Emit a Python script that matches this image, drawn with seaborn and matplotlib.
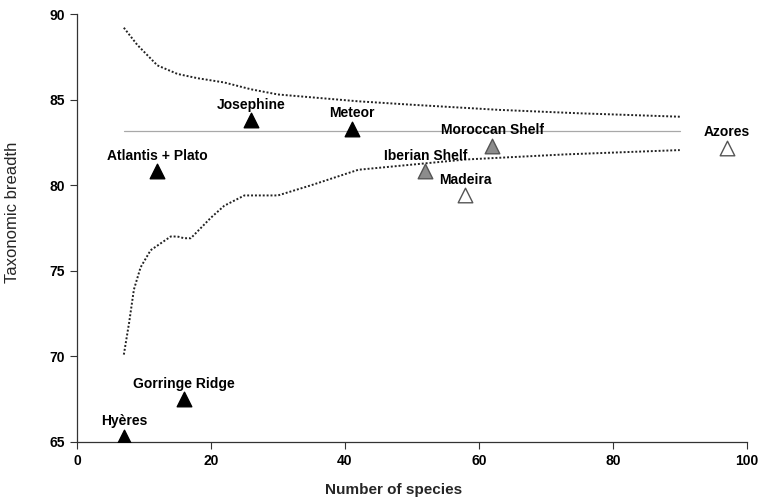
import matplotlib
matplotlib.use("Agg")
import matplotlib.pyplot as plt
import seaborn as sns
import pandas as pd

# Sites
sites = ["Hyères", "Gorringe Ridge", "Atlantis + Plato", "Josephine", "Meteor",
         "Iberian Shelf", "Moroccan Shelf", "Madeira", "Azores"]
n_species = [7, 16, 12, 26, 41, 52, 62, 58, 97]
tax_breadth = [65.3, 67.5, 80.8, 83.8, 83.3, 80.8, 82.3, 79.4, 82.2]
group = ["seamount", "seamount", "seamount", "seamount", "seamount",
         "shelf", "shelf", "island", "island"]

# Expected mean and 95% funnel
mean_x = [7, 90]
mean_y = [83.15, 83.15]
upper_x = [7, 9, 12, 15, 18, 22, 26, 30, 36, 42, 50, 63, 75, 90]
upper_y = [89.2, 88.2, 87.0, 86.5, 86.25, 86.0, 85.6, 85.3, 85.1, 84.9, 84.7, 84.4, 84.2, 84.0]
lower_x = [7, 7.8, 8.5, 9.5, 11, 12.5, 14, 15, 16, 17, 20, 22, 25, 30, 35, 42, 50, 58, 73, 90]
lower_y = [70.1, 72.0, 73.9, 75.2, 76.2, 76.6, 77.0, 77.0, 76.9, 76.9, 78.1, 78.8, 79.4, 79.4, 80.0, 80.9, 81.2, 81.5, 81.8, 82.05]

df = pd.DataFrame({"site": sites, "n": n_species, "tb": tax_breadth, "group": group})

sns.set_style("ticks")
plt.rcParams["font.family"] = ["Liberation Sans", "DejaVu Sans"]

fig = plt.figure(figsize=(7.62, 5.01), dpi=100)
ax = fig.add_axes([0.101, 0.118, 0.879, 0.854])

sns.lineplot(x=mean_x, y=mean_y, ax=ax, color="#a8a8a8", linewidth=0.9)
sns.lineplot(x=upper_x, y=upper_y, ax=ax, color="#222222", linewidth=1.4,
             linestyle=(0, (1, 1)))
sns.lineplot(x=lower_x, y=lower_y, ax=ax, color="#222222", linewidth=1.4,
             linestyle=(0, (1, 1)))

fills = {"seamount": "#000000", "shelf": "#8c8c8c", "island": "#ffffff"}
edges = {"seamount": "#000000", "shelf": "#555555", "island": "#555555"}
for g in ["seamount", "shelf", "island"]:
    sub = df[df.group == g]
    sns.scatterplot(data=sub, x="n", y="tb", ax=ax, marker="^", s=110,
                    color=fills[g], edgecolor=edges[g], linewidth=1.0,
                    zorder=5, legend=False)

for s, x, y in zip(sites, n_species, tax_breadth):
    ax.annotate(s, (x, y), xytext=(0, 6), textcoords="offset points",
                ha="center", va="bottom", fontsize=10, fontweight="bold",
                color="black")

ax.set_xlim(0, 100)
ax.set_ylim(65, 90)
ax.set_xticks([0, 20, 40, 60, 80, 100])
ax.set_yticks([65, 70, 75, 80, 85, 90])
ax.set_xlabel("Number of species", fontsize=11, fontweight="bold")
ax.set_ylabel("Taxonomic breadth", fontsize=12)
ax.xaxis.set_label_coords(0.472, -0.112)
ax.yaxis.set_label_coords(-0.0955, 0.537)
ax.xaxis.label.set_va("center")
ax.yaxis.label.set_va("center")
for lab in ax.get_xticklabels() + ax.get_yticklabels():
    lab.set_fontweight("bold")
    lab.set_fontsize(10)
ax.tick_params(direction="out", length=5, width=0.8, colors="#333333",
               labelcolor="black")
for sp in ["left", "bottom"]:
    ax.spines[sp].set_color("#333333")
    ax.spines[sp].set_linewidth(0.9)
sns.despine(ax=ax)

fig.savefig("out.png", dpi=100)
